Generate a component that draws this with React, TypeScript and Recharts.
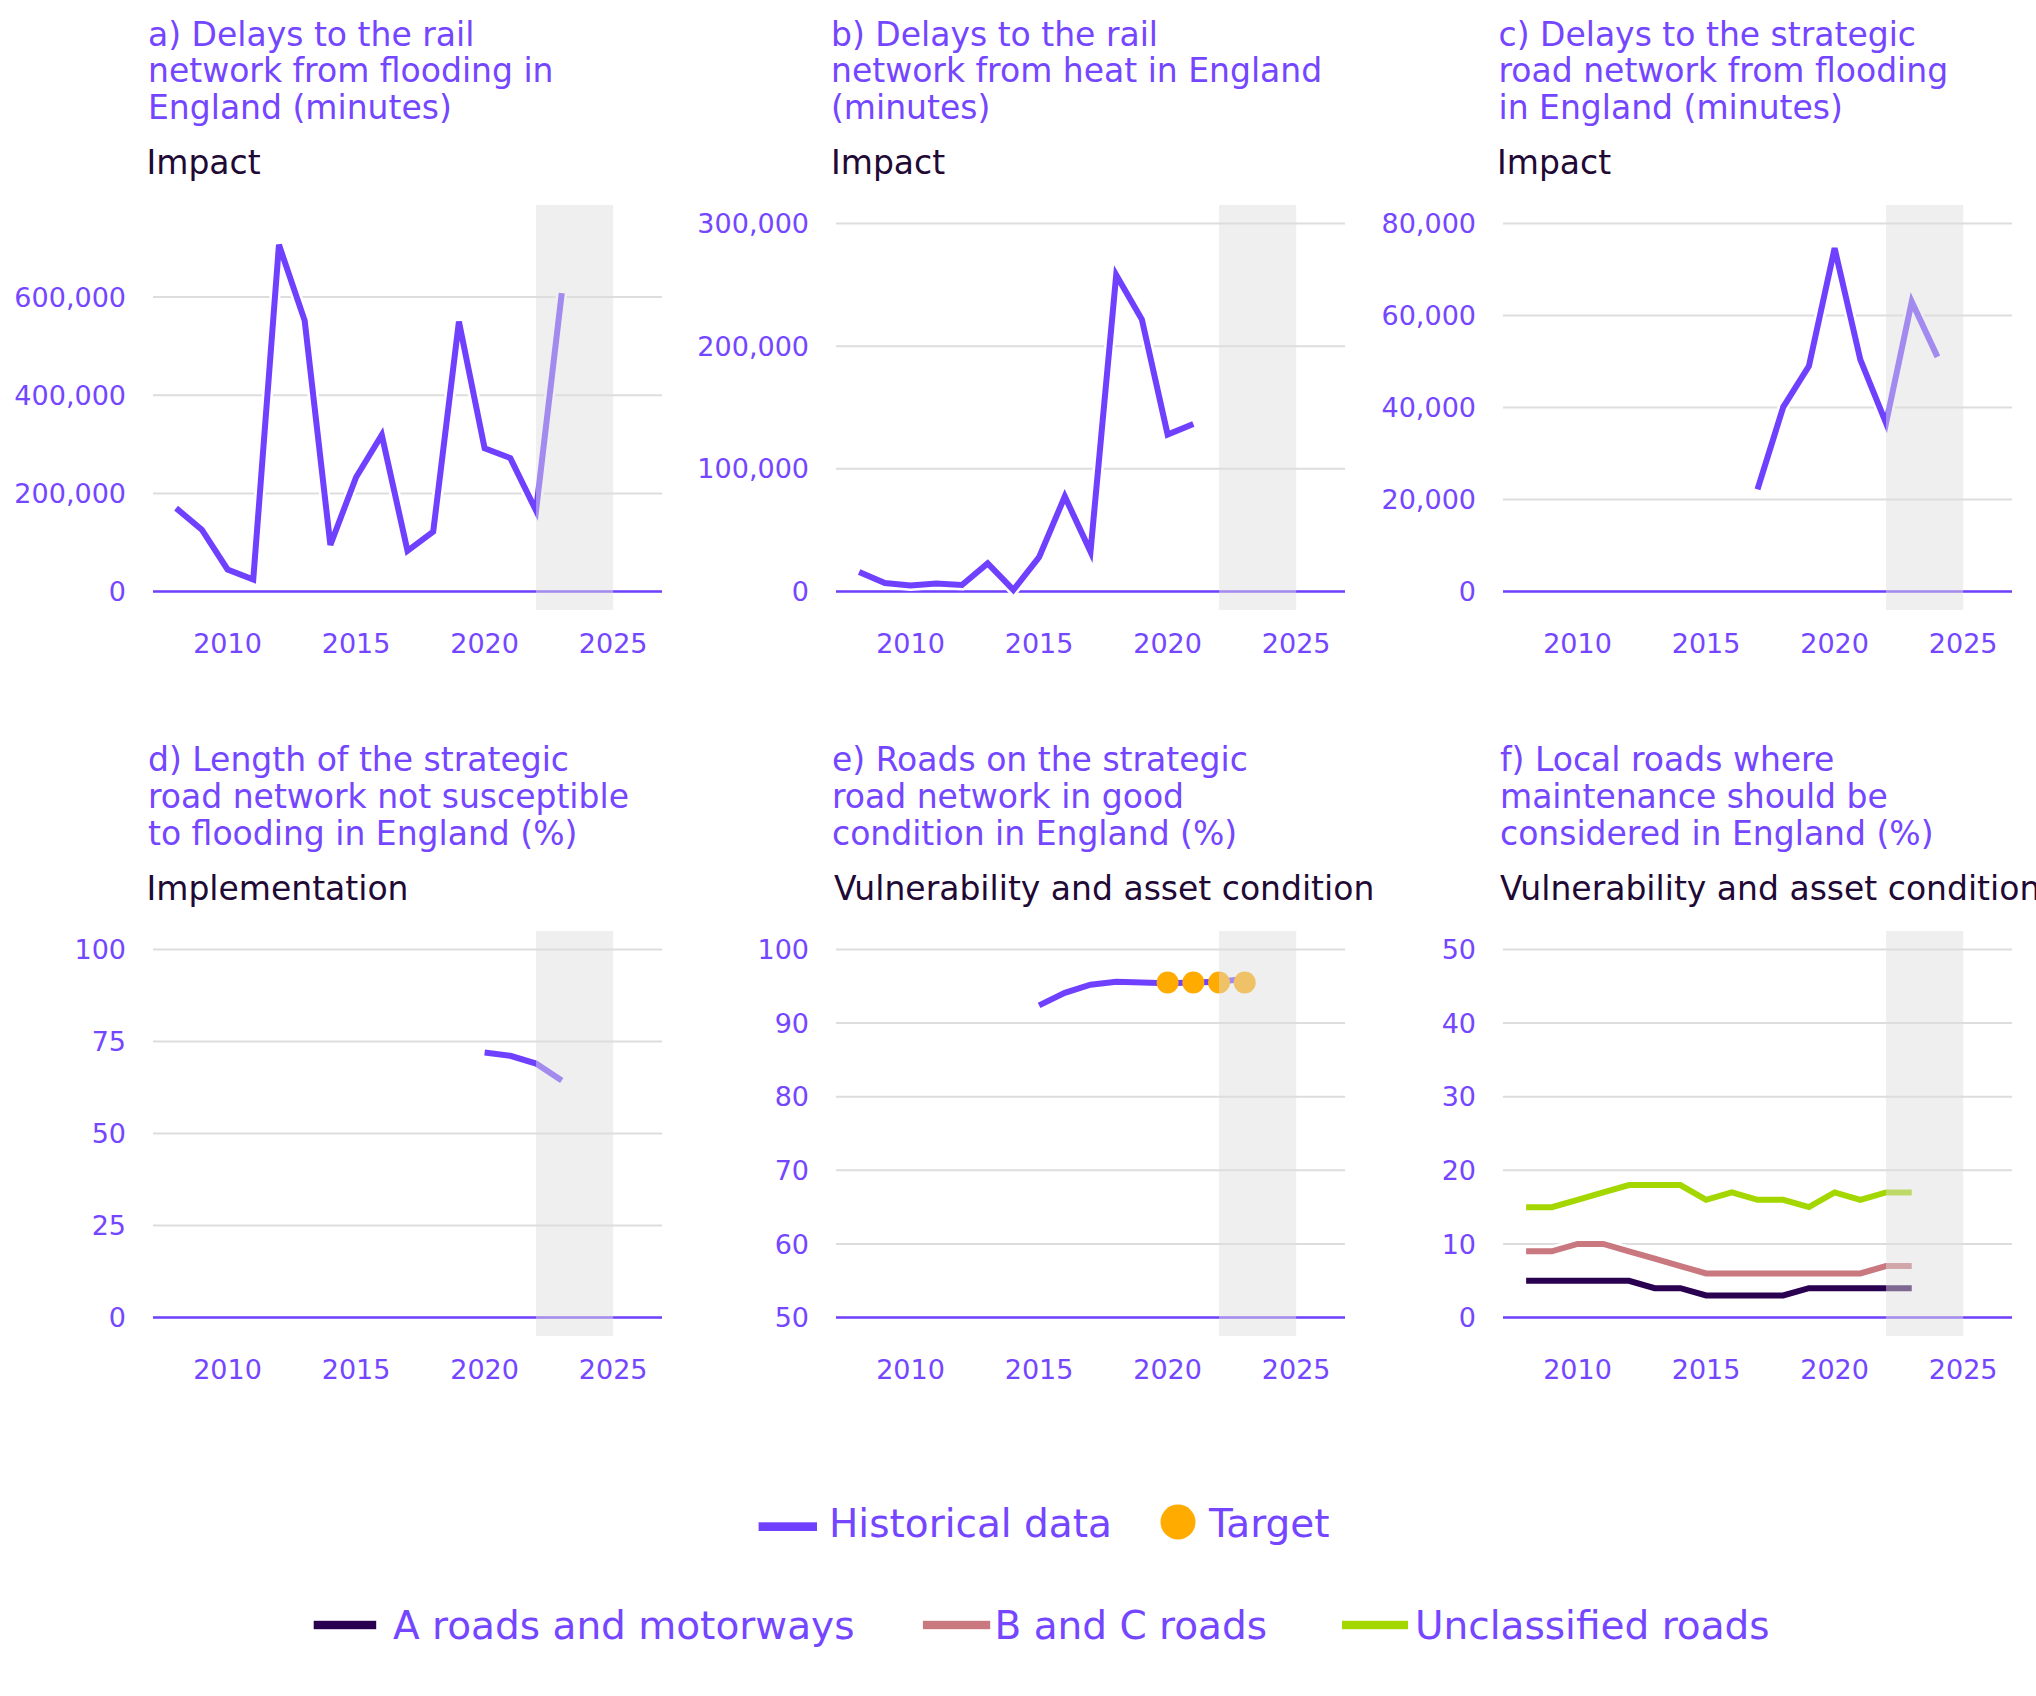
import React from "react";
import {
  LineChart,
  Line,
  XAxis,
  YAxis,
  CartesianGrid,
  ReferenceArea,
  ReferenceLine,
} from "recharts";

// ---- data -------------------------------------------------------------

const railFloodYears = [2008, 2009, 2010, 2011, 2012, 2013, 2014, 2015, 2016, 2017, 2018, 2019, 2020, 2021, 2022, 2023];
const railFloodMinutes = [170000, 126000, 45000, 24500, 706500, 552000, 95000, 233000, 319000, 83000, 122000, 550000, 292000, 272000, 165000, 608000];

const railHeatYears = [2008, 2009, 2010, 2011, 2012, 2013, 2014, 2015, 2016, 2017, 2018, 2019, 2020, 2021];
const railHeatMinutes = [16000, 7000, 5000, 6500, 5400, 23000, 1400, 28000, 77500, 32600, 258000, 221700, 128000, 136600];

const roadFloodYears = [2017, 2018, 2019, 2020, 2021, 2022, 2023, 2024];
const roadFloodMinutes = [22200, 40100, 49000, 74600, 50400, 36600, 63000, 51000];

const notSusceptibleYears = [2020, 2021, 2022, 2023];
const notSusceptiblePct = [72, 71.1, 69, 64.4];

const goodConditionYears = [2015, 2016, 2017, 2018, 2019, 2020, 2021, 2022, 2023];
const goodConditionPct = [92.4, 94.1, 95.2, 95.6, 95.5, 95.4, 95.5, 95.6, 96];
const targetYears = [2020, 2021, 2022, 2023];
const targetPct = [95.5, 95.5, 95.5, 95.5];

const localRoadYears = [2008, 2009, 2010, 2011, 2012, 2013, 2014, 2015, 2016, 2017, 2018, 2019, 2020, 2021, 2022, 2023];
const aRoadsPct = [5, 5, 5, 5, 5, 4, 4, 3, 3, 3, 3, 4, 4, 4, 4, 4];
const bcRoadsPct = [9, 9, 10, 10, 9, 8, 7, 6, 6, 6, 6, 6, 6, 6, 7, 7];
const unclassifiedPct = [15, 15, 16, 17, 18, 18, 18, 16, 17, 16, 16, 15, 17, 16, 17, 17];

const xTicks = [2010, 2015, 2020, 2025];
const projectionYears = [2022, 2025];

// ---- style ------------------------------------------------------------

const FONT = "'DejaVu Sans', sans-serif";
const VIOLET = "#7040ff";
const TEXT_VIOLET = "#7446ff";
const INK = "#1f0a36";
const AMBER = "#ffab00";
const A_ROADS = "#2a0050";
const BC_ROADS = "#c8787e";
const UNCLASSIFIED = "#a4d600";

const PLOT_W = 509;
const PLOT_H = 405;
const AXIS_W = 150;
const AXIS_H = 60;
const X_DOMAIN: [number, number] = [2007.1, 2026.9];

const COLS = [152.7, 836.1, 1502.6];
const ROWS = [205, 930.5];

const tickStyle = { fill: TEXT_VIOLET, fontSize: 27, fontFamily: FONT };

type Row = { year: number; [key: string]: number | undefined };

function toRows(years: number[], cols: Record<string, number[]>): Row[] {
  return years.map((year, i) => {
    const row: Row = { year };
    Object.keys(cols).forEach((k) => {
      row[k] = cols[k][i];
    });
    return row;
  });
}

const railFloodData = toRows(railFloodYears, { value: railFloodMinutes });
const railHeatData = toRows(railHeatYears, { value: railHeatMinutes });
const roadFloodData = toRows(roadFloodYears, { value: roadFloodMinutes });
const notSusceptibleData = toRows(notSusceptibleYears, { value: notSusceptiblePct });
const goodConditionData: Row[] = goodConditionYears.map((year, i) => {
  const t = targetYears.indexOf(year);
  return { year, value: goodConditionPct[i], target: t >= 0 ? targetPct[t] : undefined };
});
const localRoadData = toRows(localRoadYears, {
  a: aRoadsPct,
  bc: bcRoadsPct,
  unclassified: unclassifiedPct,
});

type SeriesDef = { key: string; color: string };

interface PanelProps {
  col: number;
  row: number;
  data: Row[];
  yDomain: [number, number];
  yTicks: number[];
  series: SeriesDef[];
  targets?: boolean;
}

const Panel: React.FC<PanelProps> = ({ col, row, data, yDomain, yTicks, series, targets }) => (
  <div style={{ position: "absolute", left: COLS[col] - AXIS_W, top: ROWS[row] }}>
    <LineChart
      width={AXIS_W + PLOT_W + 6}
      height={PLOT_H + AXIS_H}
      data={data}
      margin={{ top: 0, right: 6, bottom: 0, left: 0 }}
    >
      <CartesianGrid vertical={false} stroke="#dddddd" strokeWidth={2} horizontalValues={yTicks} />
      <XAxis
        type="number"
        dataKey="year"
        domain={X_DOMAIN}
        ticks={xTicks}
        interval={0}
        allowDataOverflow
        axisLine={false}
        tickLine={false}
        tickSize={0}
        tickMargin={24}
        height={AXIS_H}
        tick={tickStyle}
      />
      <YAxis
        type="number"
        domain={yDomain}
        ticks={yTicks}
        interval={0}
        allowDataOverflow
        axisLine={false}
        tickLine={false}
        tickSize={0}
        tickMargin={27}
        width={AXIS_W}
        tick={tickStyle}
        tickFormatter={(v: number) => v.toLocaleString("en-US")}
      />
      <ReferenceLine y={yTicks[0]} stroke={VIOLET} strokeWidth={2.5} zIndex={350} />
      {series.map((s) => (
        <Line
          key={s.key + "-halo"}
          type="linear"
          dataKey={s.key}
          stroke="#ffffff"
          strokeWidth={11}
          dot={false}
          activeDot={false}
          isAnimationActive={false}
          zIndex={400}
        />
      ))}
      {series.map((s) => (
        <Line
          key={s.key}
          type="linear"
          dataKey={s.key}
          stroke={s.color}
          strokeWidth={6}
          dot={false}
          activeDot={false}
          isAnimationActive={false}
          zIndex={410}
        />
      ))}
      {targets && (
        <Line
          type="linear"
          dataKey="target"
          stroke="none"
          dot={{ r: 11, fill: AMBER, stroke: "none", strokeWidth: 0 }}
          activeDot={false}
          isAnimationActive={false}
          zIndex={420}
        />
      )}
      {/* projection period, laid over the marks so they fade inside it */}
      <ReferenceArea
        x1={projectionYears[0]}
        x2={projectionYears[1]}
        y1={yDomain[0]}
        y2={yDomain[1]}
        fill="#dedede"
        fillOpacity={0.47}
        stroke="none"
        zIndex={1500}
      />
    </LineChart>
  </div>
);

const titles = [
  { x: 148, y: 45.5, lines: ["a) Delays to the rail", "network from flooding in", "England (minutes)"], sub: "Impact", subX: 146.5 },
  { x: 831, y: 45.5, lines: ["b) Delays to the rail", "network from heat in England", "(minutes)"], sub: "Impact", subX: 831 },
  { x: 1498.5, y: 45.5, lines: ["c) Delays to the strategic", "road network from flooding", "in England (minutes)"], sub: "Impact", subX: 1497 },
  { x: 148, y: 771.3, lines: ["d) Length of the strategic", "road network not susceptible", "to flooding in England (%)"], sub: "Implementation", subX: 146.5 },
  { x: 832, y: 771.3, lines: ["e) Roads on the strategic", "road network in good", "condition in England (%)"], sub: "Vulnerability and asset condition", subX: 834 },
  { x: 1500, y: 771.3, lines: ["f) Local roads where", "maintenance should be", "considered in England (%)"], sub: "Vulnerability and asset condition", subX: 1500 },
];

const Annotations: React.FC = () => (
  <svg width={2036} height={1696} style={{ position: "absolute", left: 0, top: 0 }} fontFamily={FONT}>
    {titles.map((t, i) => (
      <g key={i}>
        {t.lines.map((line, j) => (
          <text key={j} x={t.x} y={t.y + j * 36.8} fontSize={33} fill={TEXT_VIOLET}>
            {line}
          </text>
        ))}
        <text x={t.subX} y={t.y + 128.5} fontSize={33} fill={INK}>
          {t.sub}
        </text>
      </g>
    ))}

    {/* legend */}
    <rect x={758.6} y={1522.3} width={58.4} height={8.7} fill={VIOLET} />
    <text x={829} y={1536.7} fontSize={39} fill={TEXT_VIOLET}>Historical data</text>
    <circle cx={1178} cy={1522} r={17.5} fill={AMBER} />
    <text x={1209} y={1536.7} fontSize={39} fill={TEXT_VIOLET}>Target</text>

    <rect x={313.7} y={1620.8} width={62.5} height={8.4} fill={A_ROADS} />
    <text x={393} y={1639.3} fontSize={39} fill={TEXT_VIOLET}>A roads and motorways</text>
    <rect x={922.9} y={1620.8} width={67.3} height={8.4} fill={BC_ROADS} />
    <text x={994.5} y={1639.3} fontSize={39} fill={TEXT_VIOLET}>B and C roads</text>
    <rect x={1342} y={1620.8} width={66} height={8.4} fill={UNCLASSIFIED} />
    <text x={1415} y={1639.3} fontSize={39} fill={TEXT_VIOLET}>Unclassified roads</text>
  </svg>
);

const historical: SeriesDef[] = [{ key: "value", color: VIOLET }];

export default function App() {
  return (
    <div
      style={{
        position: "absolute",
        left: 0,
        top: 0,
        width: 2036,
        height: 1696,
        overflow: "hidden",
        background: "#ffffff",
        fontFamily: FONT,
      }}
    >
      <Annotations />
      <Panel col={0} row={0} data={railFloodData} yDomain={[-37500, 787500]} yTicks={[0, 200000, 400000, 600000]} series={historical} />
      <Panel col={1} row={0} data={railHeatData} yDomain={[-15000, 315000]} yTicks={[0, 100000, 200000, 300000]} series={historical} />
      <Panel col={2} row={0} data={roadFloodData} yDomain={[-4000, 84000]} yTicks={[0, 20000, 40000, 60000, 80000]} series={historical} />
      <Panel col={0} row={1} data={notSusceptibleData} yDomain={[-5, 105]} yTicks={[0, 25, 50, 75, 100]} series={historical} />
      <Panel col={1} row={1} data={goodConditionData} yDomain={[47.5, 102.5]} yTicks={[50, 60, 70, 80, 90, 100]} series={historical} targets />
      <Panel
        col={2}
        row={1}
        data={localRoadData}
        yDomain={[-2.5, 52.5]}
        yTicks={[0, 10, 20, 30, 40, 50]}
        series={[
          { key: "a", color: A_ROADS },
          { key: "bc", color: BC_ROADS },
          { key: "unclassified", color: UNCLASSIFIED },
        ]}
      />
    </div>
  );
}
